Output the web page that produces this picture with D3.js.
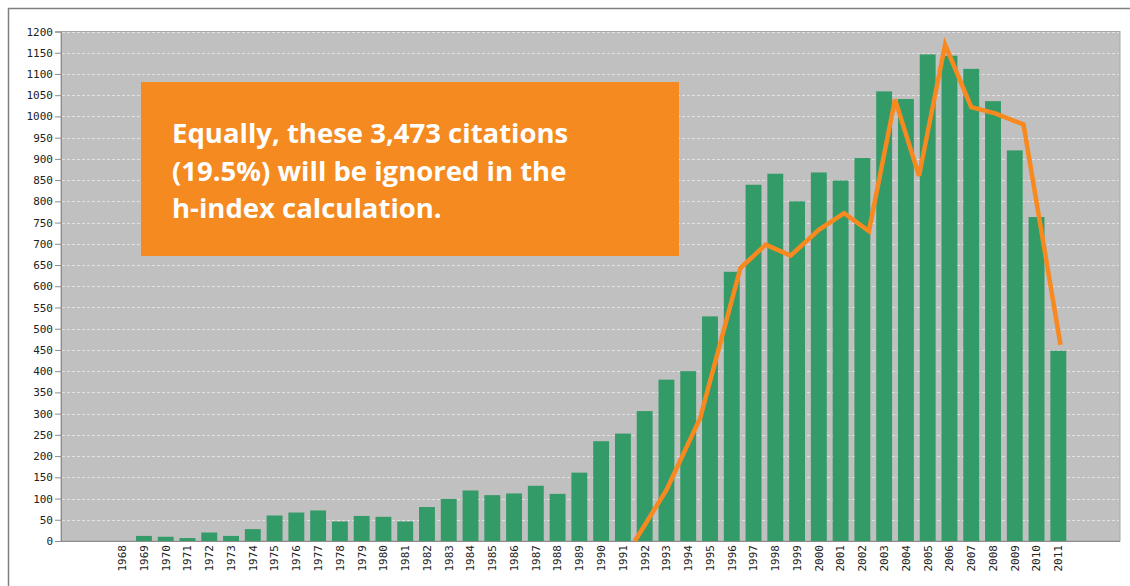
<!DOCTYPE html>
<html>
<head>
<meta charset="utf-8">
<script src="https://cdn.jsdelivr.net/npm/d3@7"></script>
<style>
  body { margin: 0; background: #fff; }
  .tick text { font-family: "DejaVu Sans Mono", monospace; font-size: 11px; fill: #222; }
</style>
</head>
<body>
<svg width="1130" height="586"></svg>
<script>
// citations per year (bars)
var years = d3.range(1968, 2012);
var citations = [0, 12, 10, 7, 20, 12, 28, 60, 67, 72, 46, 59, 57, 46, 80, 99, 119, 108, 112, 130,
                 111, 161, 235, 253, 306, 380, 400, 529, 634, 839, 865, 800, 868, 849, 902, 1059, 1041,
                 1146, 1143, 1112, 1036, 920, 763, 448];

// hand drawn overlay line (position in years, value)
var lineYears = [1991.55, 1993.0, 1994.55, 1996.4, 1997.56, 1998.7, 2000.0, 2001.16, 2002.3,
                 2003.5, 2004.6, 2005.8, 2007.0, 2008.1, 2009.4, 2011.1];
var lineValues = [0, 120, 290, 643, 698, 672, 733, 772, 730, 1040, 860, 1169, 1022, 1007, 981, 462];

var yTicks = d3.range(0, 1201, 50);
var noteLines = ["Equally, these 3,473 citations", "(19.5%) will be ignored in the", "h-index calculation."];

var svg = d3.select("svg");

// outer frame (top + left edges)
svg.append("path")
  .attr("d", "M8.5,586 L8.5,8.5 L1130,8.5")
  .attr("fill", "none")
  .attr("stroke", "#808080")
  .attr("stroke-width", 1.5);

var plotL = 61, plotR = 1120, plotT = 31.5, plotB = 541;

var x = d3.scaleBand().domain(years).range([111.3, 1069.2]).paddingInner(0.27).paddingOuter(0.135);
var y = d3.scaleLinear().domain([0, 1200]).range([plotB, plotT]);
var xl = d3.scaleLinear().domain([1968, 2011])
  .range([x(1968) + x.bandwidth() / 2, x(2011) + x.bandwidth() / 2]);

svg.append("rect")
  .attr("x", plotL).attr("y", plotT)
  .attr("width", plotR - plotL).attr("height", plotB - plotT)
  .attr("fill", "#c0c0c0")
  .attr("stroke", "#a8a8a8");

// dashed grid
svg.append("g").selectAll("line")
  .data(yTicks.filter(function(d){ return d > 0; }))
  .enter().append("line")
  .attr("x1", plotL + 1).attr("x2", plotR - 1)
  .attr("y1", function(d){ return Math.round(y(d)) + 0.5; })
  .attr("y2", function(d){ return Math.round(y(d)) + 0.5; })
  .attr("stroke", "#e2e2e2")
  .attr("stroke-dasharray", "3,2");

svg.append("g").selectAll("rect")
  .data(citations)
  .enter().append("rect")
  .attr("x", function(d, i){ return x(years[i]); })
  .attr("width", x.bandwidth())
  .attr("y", function(d){ return y(d); })
  .attr("height", function(d){ return plotB - y(d); })
  .attr("fill", "#339b68");

// axes
var yAxis = svg.append("g")
  .attr("transform", "translate(" + plotL + ",0)")
  .call(d3.axisLeft(y).tickValues(yTicks).tickFormat(d3.format("d")).tickSize(6).tickPadding(2));
yAxis.selectAll("path, line").attr("stroke", "#8c8c8c");

var xAxis = svg.append("g")
  .attr("transform", "translate(0," + plotB + ")")
  .call(d3.axisBottom(x).tickSize(0).tickPadding(0));
xAxis.select(".domain").attr("d", "M" + plotL + ",0.5H" + plotR).attr("stroke", "#8c8c8c");
xAxis.selectAll("text")
  .attr("transform", "rotate(-90)")
  .attr("text-anchor", "end")
  .attr("x", -4)
  .attr("y", 0)
  .attr("dy", "0.35em");

// annotation box
svg.append("rect")
  .attr("x", 141).attr("y", 82)
  .attr("width", 538).attr("height", 174)
  .attr("fill", "#f58a21");

svg.append("g").selectAll("text")
  .data(noteLines)
  .enter().append("text")
  .attr("x", 172)
  .attr("y", function(d, i){ return 143 + i * 37.7; })
  .attr("fill", "#fff")
  .style("font-family", "'Open Sans', sans-serif")
  .style("font-weight", 700)
  .style("font-size", "27.5px")
  .style("font-variant-ligatures", "none")
  .text(function(d){ return d; });

// orange line
var line = d3.line()
  .x(function(d, i){ return xl(lineYears[i]); })
  .y(function(d){ return y(d); });

svg.append("path")
  .datum(lineValues)
  .attr("d", line)
  .attr("fill", "none")
  .attr("stroke", "#f7891f")
  .attr("stroke-width", 4.5)
  .attr("stroke-linejoin", "miter");
</script>
</body>
</html>
